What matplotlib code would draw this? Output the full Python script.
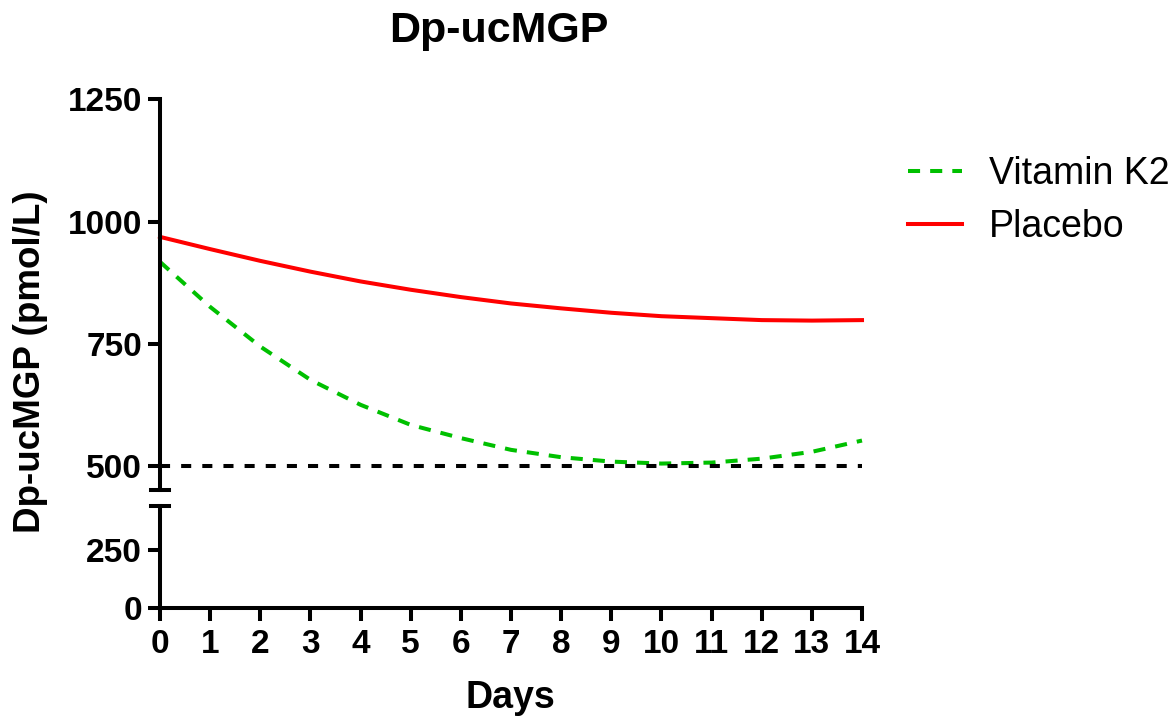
import numpy as np
import matplotlib
matplotlib.use("Agg")
import matplotlib.pyplot as plt
from matplotlib.lines import Line2D

plt.rcParams["font.family"] = ["Liberation Sans", "DejaVu Sans"]

days = np.arange(0, 15)
vitamin_k2 = [918, 826, 745, 677, 626, 585, 558, 534, 519, 510, 506, 508, 516, 530, 553]
placebo = [969, 944, 920, 898, 878, 861, 846, 833, 823, 814, 807, 803, 799, 798, 799]
threshold = 500
upper_ticks = [500, 750, 1000, 1250]
lower_ticks = [0, 250]

W, H = 1175, 717
fig = plt.figure(figsize=(W / 100, H / 100), dpi=100)

left, right = 160 / W, 862 / W
ax_up = fig.add_axes([left, 1 - 490 / H, right - left, (490 - 99.3) / H])
ax_lo = fig.add_axes([left, 1 - 607.7 / H, right - left, (607.7 - 506) / H])

lw_axis = 2.9
for ax in (ax_up, ax_lo):
    ax.set_xlim(0, 14)
    for s in ("top", "right"):
        ax.spines[s].set_visible(False)
    ax.spines["left"].set_linewidth(lw_axis)
    ax.spines["bottom"].set_linewidth(lw_axis)
    ax.tick_params(width=lw_axis, length=9, labelsize=24, pad=4)

ax_up.spines["bottom"].set_visible(False)
ax_up.tick_params(axis="x", bottom=False, labelbottom=False)
ax_up.set_ylim(452, 1250)
ax_up.set_yticks(upper_ticks)
ax_up.set_yticklabels([str(t) for t in upper_ticks], fontweight="bold")

ax_lo.set_ylim(0, 441)
ax_lo.set_yticks(lower_ticks)
ax_lo.set_yticklabels([str(t) for t in lower_ticks], fontweight="bold")
ax_lo.set_xticks(days)
ax_lo.set_xticklabels([str(d) for d in days], fontweight="bold")
ax_lo.tick_params(axis="x", pad=6)

# curves
ax_up.plot(days, vitamin_k2, color="#00c000", lw=2.9, ls=(0, (3, 2.5)),
           label="Vitamin K2", clip_on=False)
ax_up.plot(days, placebo, color="#ff0000", lw=2.9, label="Placebo", clip_on=False)
ax_up.axhline(threshold, color="black", lw=2.9, ls=(0, (2.5, 2.75)))

# axis break caps
for yp in (490, 506):
    fig.add_artist(Line2D([151 / W, 169 / W], [1 - yp / H, 1 - yp / H],
                          color="black", lw=lw_axis, transform=fig.transFigure))

fig.text(499 / W, 1 - 42 / H, "Dp-ucMGP", fontsize=31, fontweight="bold",
         ha="center", va="baseline")
fig.text(510 / W, 1 - 708 / H, "Days", fontsize=27, fontweight="bold",
         ha="center", va="baseline")
fig.text(31 / W, 1 - 361.5 / H, "Dp-ucMGP (pmol/L)", fontsize=26.5,
         fontweight="bold", rotation=90, ha="center", va="center")

leg = ax_up.legend(loc="upper left", bbox_to_anchor=(908 / W, 1 - 156 / H),
                   bbox_transform=fig.transFigure, frameon=False, fontsize=27,
                   handlelength=1.44, handletextpad=0.72, labelspacing=0.45,
                   borderpad=0, borderaxespad=0)

fig.savefig("out.png", dpi=100)
